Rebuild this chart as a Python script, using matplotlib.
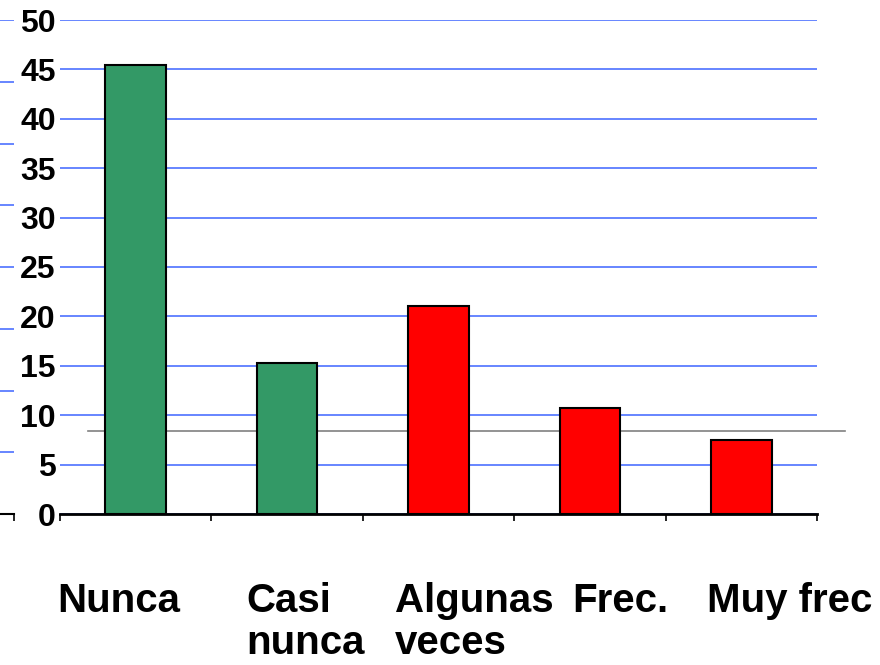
import matplotlib
matplotlib.use("Agg")
import matplotlib.pyplot as plt
import matplotlib.transforms as mt

categories = ["Nunca", "Casi\nnunca", "Algunas\nveces", "Frec.", "Muy frec"]
values = [45.4, 15.3, 21.1, 10.7, 7.5]
colors = ["#339966", "#339966", "#ff0000", "#ff0000", "#ff0000"]
yticks = [0, 5, 10, 15, 20, 25, 30, 35, 40, 45, 50]
ref_level = 8.4
# left edges of category labels (data units), as they appear
label_x = [-0.52, 0.728, 1.713, 2.882, 3.773]

W, H = 880, 665
fig = plt.figure(figsize=(W / 100, H / 100), dpi=100)

def px_axes(x0, x1, y_top, y_bot):
    return fig.add_axes([x0 / W, (H - y_bot) / H, (x1 - x0) / W, (y_bot - y_top) / H])

# ghost axis fragment at the far left
gax = px_axes(0, 14, 20, 514)
gax.set_xlim(0, 1)
gax.set_ylim(0, 8)
for s in ["left", "right", "top"]:
    gax.spines[s].set_visible(False)
gax.spines["bottom"].set_linewidth(1.5)
gax.set_yticks(range(9))
gax.yaxis.set_tick_params(length=0, labelleft=False)
gax.grid(axis="y", color="#5b7cff", lw=1.3)
gax.set_xticks([1])
gax.xaxis.set_tick_params(length=5, width=1.2, labelbottom=False, direction="out")
gax.patch.set_alpha(0)

ax = px_axes(60, 817, 20, 514)
x = list(range(len(categories)))
ax.bar(x, values, width=0.4, color=colors, edgecolor="black", linewidth=1.5, zorder=3)
ax.set_xlim(-0.5, len(categories) - 0.5)
ax.set_ylim(0, 50)
ax.set_yticks(yticks)
ax.set_yticklabels([str(v) for v in yticks], fontfamily="Liberation Sans",
                   fontweight="bold", fontsize=23)
ax.yaxis.set_tick_params(length=0, pad=3)
ax.grid(axis="y", color="#5b7cff", lw=1.3, zorder=0)
for s in ["left", "right", "top"]:
    ax.spines[s].set_visible(False)
ax.spines["bottom"].set_linewidth(2)
ax.spines["bottom"].set_zorder(4)
ax.set_xticks([i - 0.5 for i in range(len(categories) + 1)])
ax.xaxis.set_tick_params(length=5, width=1.2, labelbottom=False, direction="out")

ax.plot([-0.315, 4.685], [ref_level, ref_level], color="#808080", lw=1.2,
        clip_on=False, zorder=2)

lab_tr = ax.get_xaxis_transform() + mt.ScaledTranslation(0, -0.68, fig.dpi_scale_trans)
for lx, lab in zip(label_x, categories):
    ax.text(lx, 0, lab, transform=lab_tr, ha="left", va="top",
            fontfamily="Liberation Sans", fontweight="bold", fontsize=29,
            linespacing=1.12)

fig.savefig("out.png", dpi=100)
